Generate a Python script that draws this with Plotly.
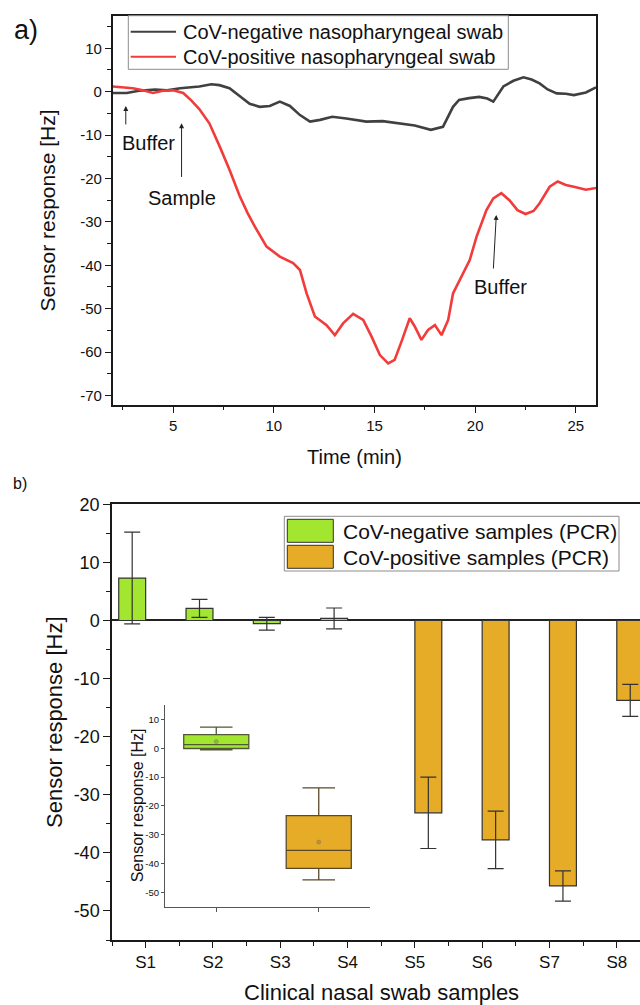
import numpy as np
import plotly.graph_objects as go

# ---------------- data: panel a (time traces) ----------------
neg_t = [2.0, 2.7, 3.3, 4.1, 4.7, 5.35, 6.3, 6.9, 7.3, 7.8, 8.3, 8.8, 9.3, 9.8, 10.3,
         10.8, 11.3, 11.8, 12.3, 12.9, 13.6, 14.6, 15.4, 16.3, 17.0, 17.8, 18.4, 18.9,
         19.2, 19.7, 20.2, 20.6, 20.9, 21.4, 21.9, 22.4, 22.8, 23.2, 23.6, 24.05, 24.5,
         24.9, 25.5, 26.0]
neg_v = [-0.3, -0.3, 0.2, 0.5, 0.3, 0.8, 1.2, 1.7, 1.5, 0.8, -1.0, -2.8, -3.5, -3.3, -2.3,
         -3.3, -5.4, -6.9, -6.5, -5.8, -6.2, -6.9, -6.8, -7.4, -7.8, -8.8, -8.1, -3.5,
         -1.9, -1.5, -1.2, -1.6, -2.3, 1.2, 2.5, 3.3, 2.8, 1.9, 0.5, -0.4, -0.5,
         -0.8, -0.2, 1.0]

pos_t = [2.0, 2.5, 3.0, 3.5, 4.0, 4.5, 5.0, 5.5, 5.9, 6.3, 6.8, 7.3, 7.8, 8.3, 8.7, 9.06,
         9.64, 10.3, 10.96, 11.3, 11.63, 12.04, 12.62, 13.03, 13.44, 13.94, 14.44, 14.85,
         15.27, 15.68, 16.0, 16.34, 16.75, 17.0, 17.33, 17.66, 18.0, 18.33, 18.66, 18.9,
         19.32, 19.73, 20.07, 20.56, 20.9, 21.3, 21.7, 22.1, 22.5, 22.9, 23.2, 23.7, 24.1,
         24.5, 24.9, 25.5, 26.0]
pos_v = [1.2, 1.0, 0.8, 0.3, -0.3, 0.2, 0.3, -0.3, -2.0, -4.0, -7.3, -12.5, -18.0, -24.0,
         -28.0, -31.1, -35.7, -38.0, -39.5, -41.1, -46.5, -51.8, -53.8, -56.1, -53.4, -51.2,
         -52.6, -56.4, -60.7, -62.6, -61.8, -57.6, -52.2, -54.1, -57.2, -54.9, -53.8, -56.1,
         -52.6, -46.5, -42.6, -38.8, -33.4, -27.3, -24.6, -23.4, -25.0, -27.3, -28.2, -27.5,
         -25.7, -21.9, -20.7, -21.5, -21.9, -22.6, -22.2]

neg_label = "CoV-negative nasopharyngeal swab"
pos_label = "CoV-positive nasopharyngeal swab"

# ---------------- data: panel b (bars) ----------------
samples = ["S1", "S2", "S3", "S4", "S5", "S6", "S7", "S8"]
neg_vals = [7.3, 2.1, -0.55, 0.35]
neg_err = [7.9, 1.55, 1.1, 1.8]
pos_vals = [-33.1, -37.75, -45.7, -13.75]
pos_err = [6.15, 4.95, 2.6, 2.75]
bar_neg_label = "CoV-negative samples (PCR)"
bar_pos_label = "CoV-positive samples (PCR)"

top_xticks = [5, 10, 15, 20, 25]
top_yticks = [-70, -60, -50, -40, -30, -20, -10, 0, 10]
bot_yticks = [-50, -40, -30, -20, -10, 0, 10, 20]
inset_yticks = [-50, -40, -30, -20, -10, 0, 10]

GREEN = "#A3E630"
ORANGE = "#E6AC28"
BLACKLINE = "#404040"
REDLINE = "#F23B3B"
AX = "#1a1a1a"
FONT = "Arial, Liberation Sans, sans-serif"

W, H = 640, 1005
def px(x):
    return x / W
def py(y):
    return 1 - y / H
def lab(v):
    return [str(t) for t in v]

fig = go.Figure()

# panel a traces
fig.add_trace(go.Scatter(x=neg_t, y=neg_v, mode="lines", name=neg_label,
                         line=dict(color=BLACKLINE, width=2.6), xaxis="x", yaxis="y"))
fig.add_trace(go.Scatter(x=pos_t, y=pos_v, mode="lines", name=pos_label,
                         line=dict(color=REDLINE, width=2.6), xaxis="x", yaxis="y"))

# panel b bars
xpos = list(range(1, len(samples) + 1))
n_neg = len(neg_vals)
neg_y = neg_vals + [None] * (len(samples) - n_neg)
neg_e = neg_err + [None] * (len(samples) - n_neg)
pos_y = [None] * n_neg + pos_vals
pos_e = [None] * n_neg + pos_err

fig.add_trace(go.Bar(x=xpos, y=neg_y, name=bar_neg_label,
                     marker=dict(color=GREEN, line=dict(color="#333333", width=1.2)),
                     error_y=dict(type="data", array=neg_e, visible=True, color="#333333",
                                  thickness=1.2, width=8),
                     xaxis="x2", yaxis="y2"))
fig.add_trace(go.Bar(x=xpos, y=pos_y, name=bar_pos_label,
                     marker=dict(color=ORANGE, line=dict(color="#333333", width=1.2)),
                     error_y=dict(type="data", array=pos_e, visible=True, color="#333333",
                                  thickness=1.2, width=8),
                     xaxis="x2", yaxis="y2"))

# inset box plots
fig.add_trace(go.Box(y=neg_vals, x0=0, width=0.635, fillcolor=GREEN, quartilemethod="exclusive",
                     line=dict(color="#4f5a35", width=1.3), whiskerwidth=0.5, boxpoints=False,
                     xaxis="x3", yaxis="y3"))
fig.add_trace(go.Box(y=pos_vals, x0=1, width=0.635, fillcolor=ORANGE, quartilemethod="exclusive",
                     line=dict(color="#5a4a2a", width=1.3), whiskerwidth=0.5, boxpoints=False,
                     xaxis="x3", yaxis="y3"))
fig.add_trace(go.Scatter(x=[0, 1], y=[float(np.mean(neg_vals)), float(np.mean(pos_vals))],
                         mode="markers",
                         marker=dict(size=4, color=["#8fbf2a", "#c8921c"],
                                     line=dict(color="#777777", width=0.5)),
                         xaxis="x3", yaxis="y3"))

axis_common = dict(showgrid=False, zeroline=False, showline=True, linecolor=AX, linewidth=1.5,
                   ticks="outside", tickcolor=AX, tickwidth=1.3, automargin=False,
                   tickfont=dict(family=FONT, color="#111111"))

fig.update_layout(
    width=W, height=H, margin=dict(l=0, r=0, t=0, b=0),
    paper_bgcolor="white", plot_bgcolor="rgba(0,0,0,0)", template="none",
    font=dict(family=FONT, color="#111111"), showlegend=False,
    barmode="group", bargap=0.2, bargroupgap=0,
    xaxis=dict(axis_common, domain=[px(112.7), px(596)], range=[2, 26], anchor="y",
               tickvals=top_xticks, ticktext=lab(top_xticks), ticklen=6, mirror=True, tickfont_size=15,
               minor=dict(tick0=2.5, dtick=5, ticklen=3.5, ticks="outside", tickcolor=AX, tickwidth=1.2)),
    yaxis=dict(axis_common, domain=[py(405), py(15.7)], range=[-72.2, 17.5], anchor="x",
               tickvals=top_yticks, ticktext=lab(top_yticks), ticklen=6, mirror=True, tickfont_size=15,
               minor=dict(tick0=0, dtick=5, ticklen=3.5, ticks="outside", tickcolor=AX, tickwidth=1.2)),
    xaxis2=dict(axis_common, domain=[px(112), 1.0], range=[0.5, 8.345], anchor="y2",
                tickvals=xpos, ticktext=samples, ticklen=6, mirror=True, tickfont_size=17,
                minor=dict(tick0=0.5, dtick=1, ticklen=4, ticks="outside", tickcolor=AX, tickwidth=1.2)),
    yaxis2=dict(axis_common, domain=[py(940), py(504.3)], range=[-55, 20], anchor="x2",
                tickvals=bot_yticks, ticktext=lab(bot_yticks), ticklen=7, tickfont_size=18,
                zeroline=True, zerolinecolor="#222222", zerolinewidth=1.5,
                minor=dict(tick0=0, dtick=5, ticklen=4, ticks="outside", tickcolor=AX, tickwidth=1.2)),
    xaxis3=dict(axis_common, domain=[px(165), px(370)], range=[-0.5, 1.5], anchor="y3",
                tickvals=[0, 1], showticklabels=False, ticklen=4, linecolor="#555555",
                linewidth=1, tickcolor="#555555", tickwidth=1),
    yaxis3=dict(axis_common, domain=[py(906.7), py(705)], range=[-55, 15], anchor="x3",
                tickvals=inset_yticks, ticktext=lab(inset_yticks), ticklen=3, linecolor="#555555",
                linewidth=1, tickcolor="#555555", tickwidth=1, tickfont_size=9.5),
)

ann = []
shapes = []
# axis titles
ann.append(dict(text="Sensor response [Hz]", x=px(47), y=py(210.4), xref="paper", yref="paper",
                textangle=-90, showarrow=False, font=dict(size=21), xanchor="center", yanchor="middle"))
ann.append(dict(text="Time (min)", x=px(354.3), y=py(456.7), xref="paper", yref="paper",
                showarrow=False, font=dict(size=20), xanchor="center", yanchor="middle"))
ann.append(dict(text="Sensor response [Hz]", x=px(54), y=py(722), xref="paper", yref="paper",
                textangle=-90, showarrow=False, font=dict(size=22), xanchor="center", yanchor="middle"))
ann.append(dict(text="Clinical nasal swab samples", x=px(381), y=py(992), xref="paper", yref="paper",
                showarrow=False, font=dict(size=22), xanchor="center", yanchor="middle"))
ann.append(dict(text="Sensor response [Hz]", x=px(137.5), y=py(805.8), xref="paper", yref="paper",
                textangle=-90, showarrow=False, font=dict(size=16), xanchor="center", yanchor="middle"))
# panel labels
ann.append(dict(text="a)", x=px(26), y=py(30), xref="paper", yref="paper", showarrow=False,
                font=dict(size=27), xanchor="center", yanchor="middle"))
ann.append(dict(text="b)", x=px(20), y=py(484), xref="paper", yref="paper", showarrow=False,
                font=dict(size=16), xanchor="center", yanchor="middle"))
# arrows in panel a
arrow_style = dict(showarrow=True, arrowhead=2, arrowsize=1, arrowwidth=1, arrowcolor="#222222",
                   xref="x", yref="y", axref="x", ayref="y", text="", standoff=0, startstandoff=0)
ann.append(dict(arrow_style, x=2.65, y=-3.3, ax=2.65, ay=-7.9))
ann.append(dict(arrow_style, x=5.42, y=-7.3, ax=5.42, ay=-20.0))
ann.append(dict(arrow_style, x=21.05, y=-28.4, ax=20.9, ay=-41.1))
for txt, xx, yy in [("Buffer", 3.77, -11.9), ("Sample", 5.44, -24.6), ("Buffer", 21.27, -44.9)]:
    ann.append(dict(text=txt, x=xx, y=yy, xref="x", yref="y", showarrow=False,
                    font=dict(size=20), xanchor="center", yanchor="middle"))

# legend of panel a (box, line keys, labels)
shapes.append(dict(type="rect", xref="paper", yref="paper", x0=px(128.3), x1=px(508.3),
                   y0=py(69.3), y1=py(15.7), line=dict(color="#8c8c8c", width=1),
                   fillcolor="white", layer="above"))
for lbl, col, yc in [(neg_label, BLACKLINE, 31.7), (pos_label, REDLINE, 56.7)]:
    shapes.append(dict(type="line", xref="paper", yref="paper", x0=px(130.7), x1=px(176),
                       y0=py(yc), y1=py(yc), line=dict(color=col, width=2), layer="above"))
    ann.append(dict(text=lbl, x=px(181), y=py(yc), xref="paper", yref="paper", showarrow=False,
                    font=dict(size=20), xanchor="left", yanchor="middle"))

# legend of panel b (box, colour keys, labels)
shapes.append(dict(type="rect", xref="paper", yref="paper", x0=px(284.3), x1=px(619),
                   y0=py(571), y1=py(516.3), line=dict(color="#8c8c8c", width=1),
                   fillcolor="white", layer="above"))
for lbl, col, yt, yb, yc in [(bar_neg_label, GREEN, 519.3, 542.3, 531.7),
                             (bar_pos_label, ORANGE, 545.3, 568.3, 557.3)]:
    shapes.append(dict(type="rect", xref="paper", yref="paper", x0=px(287.3), x1=px(333.3),
                       y0=py(yb), y1=py(yt), line=dict(color="#333333", width=1),
                       fillcolor=col, layer="above"))
    ann.append(dict(text=lbl, x=px(340.7), y=py(yc), xref="paper", yref="paper", showarrow=False,
                    font=dict(size=21), xanchor="left", yanchor="middle"))

fig.update_layout(annotations=ann, shapes=shapes)

fig.write_html("out.html", include_plotlyjs=True, config={"displayModeBar": False})
